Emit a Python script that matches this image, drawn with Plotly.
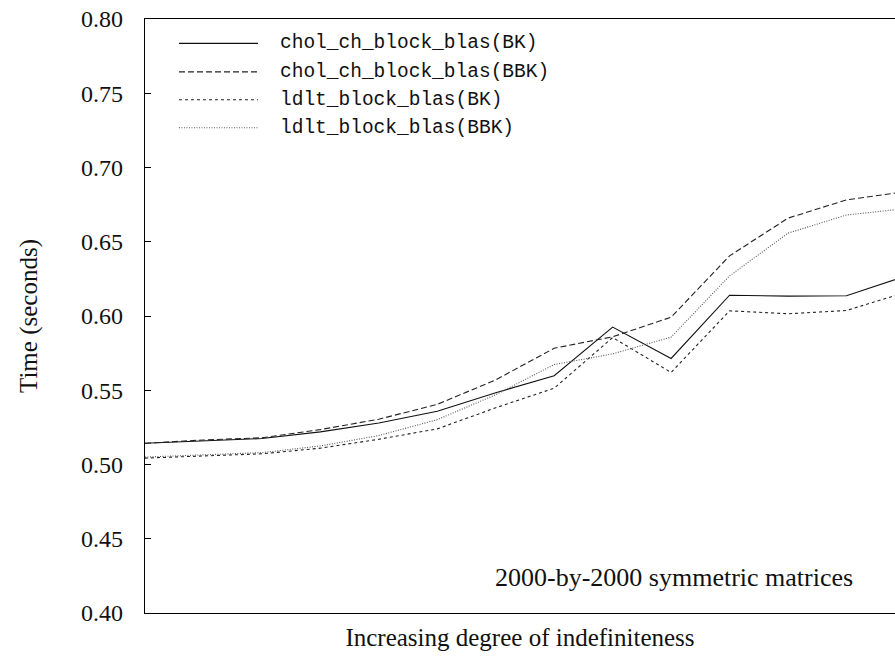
import plotly.graph_objects as go

# ---- data ----
x_index = list(range(1, 15))
series_names = [
    "chol_ch_block_blas(BK)",
    "chol_ch_block_blas(BBK)",
    "ldlt_block_blas(BK)",
    "ldlt_block_blas(BBK)",
]
chol_bk = [0.5143, 0.5160, 0.5175, 0.5220, 0.5280, 0.5358, 0.5483, 0.5598, 0.5925, 0.5714, 0.6140, 0.6134, 0.6136, 0.6267]
chol_bbk = [0.5143, 0.5165, 0.5180, 0.5235, 0.5305, 0.5405, 0.5570, 0.5783, 0.5860, 0.5992, 0.6405, 0.6659, 0.6782, 0.6837]
ldlt_bk = [0.5043, 0.5055, 0.5072, 0.5110, 0.5170, 0.5240, 0.5382, 0.5514, 0.5855, 0.5620, 0.6035, 0.6015, 0.6037, 0.6158]
ldlt_bbk = [0.5050, 0.5065, 0.5080, 0.5125, 0.5195, 0.5302, 0.5470, 0.5673, 0.5745, 0.5858, 0.6270, 0.6558, 0.6680, 0.6723]
y_ticks = [0.40, 0.45, 0.50, 0.55, 0.60, 0.65, 0.70, 0.75, 0.80]

series = [chol_bk, chol_bbk, ldlt_bk, ldlt_bbk]
styles = [
    dict(color="#111111", dash="solid", width=1.1),
    dict(color="#222222", dash="6px,3px", width=1.1),
    dict(color="#222222", dash="3px,3px", width=1.1),
    dict(color="#555555", dash="1px,1.5px", width=1.1),
]

SERIF = "Liberation Serif"
MONO = "Liberation Mono"

fig = go.Figure()
for name, ys, st in zip(series_names, series, styles):
    fig.add_trace(go.Scatter(x=x_index, y=ys, mode="lines", name=name,
                             line=st, showlegend=False))

# manual legend (long line samples as in the reference)
leg_y = [0.959, 0.911, 0.864, 0.817]
for name, st, ly in zip(series_names, styles, leg_y):
    fig.add_shape(type="line", xref="paper", yref="paper",
                  x0=0.0453, x1=0.1507, y0=ly, y1=ly, line=st)
    fig.add_annotation(xref="paper", yref="paper", x=0.1773, y=ly,
                       text=name, showarrow=False, xanchor="left", yanchor="middle",
                       font=dict(family=MONO, size=19.5, color="#111111"))

fig.add_annotation(xref="paper", yref="paper", x=0.7047, y=0.059,
                   text="2000-by-2000 symmetric matrices", showarrow=False,
                   xanchor="center", yanchor="middle",
                   font=dict(family=SERIF, size=26, color="#111111"))

fig.update_layout(
    width=895, height=658,
    margin=dict(l=145, r=0, t=19, b=45),
    paper_bgcolor="white", plot_bgcolor="white",
    font=dict(family=SERIF, size=24, color="#111111"),
    showlegend=False,
)
fig.update_xaxes(
    range=[1, 13.83], showgrid=False, zeroline=False,
    showline=True, linecolor="black", linewidth=1.4, mirror=True,
    showticklabels=False, ticks="",
    title=dict(text="Increasing degree of indefiniteness",
               font=dict(family=SERIF, size=25), standoff=15),
)
fig.update_yaxes(
    range=[0.40, 0.80], showgrid=False, zeroline=False,
    showline=True, linecolor="black", linewidth=1.4, mirror=False,
    tickmode="array", tickvals=y_ticks, tickformat=".2f",
    ticks="inside", ticklen=6, tickwidth=1.2, tickcolor="black",
    ticklabelstandoff=16,
    tickfont=dict(family=SERIF, size=24),
    title=dict(text="Time (seconds)", font=dict(family=SERIF, size=25), standoff=36),
)

fig.write_html("out.html")
